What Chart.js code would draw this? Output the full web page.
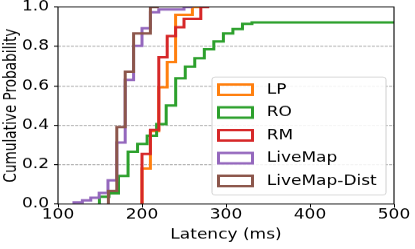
<!DOCTYPE html>
<html>
<head>
<meta charset="utf-8">
<script src="https://cdn.jsdelivr.net/npm/chart.js@4.4.1/dist/chart.umd.min.js"></script>
<style>
  html, body { margin: 0; padding: 0; background: #fff; overflow: hidden; }
  /* drawn taller then squeezed, like the original figure */
  #wrap { width: 415px; height: 311px; transform: scaleY(0.8006); transform-origin: 0 0; }
</style>
</head>
<body>
<div id="wrap"><canvas id="cdf" width="415" height="311"></canvas></div>
<script>
// ── Data (bin edges in ms, cumulative fraction per bin) ───────
const seriesNames = ['LP', 'RO', 'RM', 'LiveMap', 'LiveMap-Dist'];
const seriesColors = ['#ff7f0e', '#2ca02c', '#d62728', '#9467bd', '#8c564b'];

const lpEdges = [200, 210, 220, 230, 240, 260, 270];
const lpCdf   = [0.18, 0.37, 0.592, 0.72, 0.96, 1.0];

const roEdges = [149.3, 160.7, 172.0, 183.4, 194.7, 206.1, 217.4, 228.8, 240.1,
                 251.5, 262.8, 274.2, 285.5, 296.9, 308.2, 319.6, 330.9, 500];
const roCdf   = [0.037, 0.054, 0.142, 0.265, 0.305, 0.347, 0.406, 0.50, 0.638,
                 0.697, 0.74, 0.785, 0.825, 0.866, 0.888, 0.914, 0.922];

const rmEdges = [200, 210, 220, 230, 240, 250, 270, 280];
const rmCdf   = [0.254, 0.376, 0.745, 0.853, 0.897, 0.94, 1.0];

const lmEdges = [119, 129, 139, 149, 159.5, 170, 180, 190, 200, 210, 220, 250, 260];
const lmCdf   = [0.008, 0.018, 0.032, 0.056, 0.12, 0.312, 0.63, 0.803, 0.892, 0.973, 0.988, 1.0];

const ldEdges = [160, 170, 180, 190, 210, 220];
const ldCdf   = [0.066, 0.39, 0.672, 0.866, 1.0];

const xTicks = [100, 200, 300, 400, 500];
const yTicks = [0, 0.2, 0.4, 0.6, 0.8, 1.0];

const allEdges = [lpEdges, roEdges, rmEdges, lmEdges, ldEdges];
const allCdf = [lpCdf, roCdf, rmCdf, lmCdf, ldCdf];

// step outline: rise at first edge, hold each level to the next edge
function stepPoints(edges, cdf) {
  const pts = [{ x: edges[0], y: 0 }];
  cdf.forEach((v, i) => pts.push({ x: edges[i], y: v }));
  pts.push({ x: edges[edges.length - 1], y: cdf[cdf.length - 1] });
  return pts;
}

Chart.defaults.font.family = "'DejaVu Sans', sans-serif";
Chart.defaults.font.size = 17;
Chart.defaults.color = '#000';

// ── Frame + legend (matplotlib style) ─────────────────────────
const frameAndLegend = {
  id: 'frameAndLegend',
  afterDatasetsDraw(chart) {
    const { ctx, chartArea: ca } = chart;
    ctx.save();
    ctx.strokeStyle = '#000';
    ctx.lineWidth = 1.1;
    ctx.strokeRect(ca.left, ca.top, ca.right - ca.left, ca.bottom - ca.top);

    const bx = ca.right - 182, by = ca.top + 87.5, bw = 174, bh = 147.4;
    ctx.beginPath();
    ctx.roundRect(bx, by, bw, bh, 3);
    ctx.fillStyle = 'rgba(255,255,255,0.85)';
    ctx.fill();
    ctx.strokeStyle = '#d0d0d0';
    ctx.lineWidth = 1;
    ctx.stroke();

    ctx.font = "17px 'DejaVu Sans', sans-serif";
    ctx.textBaseline = 'middle';
    chart.data.datasets.forEach((ds, i) => {
      const cy = by + 15.8 + i * 28.5;
      ctx.strokeStyle = ds.borderColor;
      ctx.lineWidth = 3;
      ctx.strokeRect(bx + 6.5, cy - 6.5, 34, 13);
      ctx.fillStyle = '#000';
      ctx.fillText(ds.label, bx + 54.7, cy + 0.5);
    });
    ctx.restore();
  }
};

new Chart(document.getElementById('cdf'), {
  type: 'line',
  data: {
    datasets: seriesNames.map((name, i) => ({
      label: name,
      data: stepPoints(allEdges[i], allCdf[i]),
      borderColor: seriesColors[i],
      borderWidth: 3,
      pointRadius: 0,
      stepped: true,
      fill: false,
      clip: 0,
      order: -i
    }))
  },
  options: {
    responsive: false,
    animation: false,
    layout: { padding: { top: 8.7, right: 21, bottom: 0, left: 0 } },
    plugins: { legend: { display: false }, tooltip: { enabled: false } },
    scales: {
      x: {
        type: 'linear', min: 100, max: 500,
        afterFit: s => { s.height = 56.2; s.paddingLeft = 0; s.paddingRight = 0; },
        afterBuildTicks: s => { s.ticks = xTicks.map(v => ({ value: v })); },
        ticks: { padding: -1, maxRotation: 0 },
        grid: { drawOnChartArea: false, tickLength: 4.4, tickColor: '#000', tickWidth: 1 },
        border: { display: false },
        title: { display: true, text: 'Latency (ms)', padding: { top: 0, bottom: 7 } }
      },
      y: {
        min: 0, max: 1,
        afterFit: s => { s.width = 58; s.paddingTop = 0; s.paddingBottom = 0; },
        afterBuildTicks: s => { s.ticks = yTicks.map(v => ({ value: v })); },
        ticks: { padding: 5, callback: v => v.toFixed(1) },
        grid: {
          color: c => (c.tick && (c.tick.value < 0.01 || c.tick.value > 0.99)) ? 'rgba(0,0,0,0)' : '#b0b0b0',
          lineWidth: 1.2, tickLength: 4, tickColor: '#000', tickWidth: 1.2
        },
        border: { display: false, dash: [3, 1.3] },
        title: { display: true, text: 'Cumulative Probability', padding: { top: 1, bottom: 0 } }
      }
    }
  },
  plugins: [frameAndLegend]
});
</script>
</body>
</html>
